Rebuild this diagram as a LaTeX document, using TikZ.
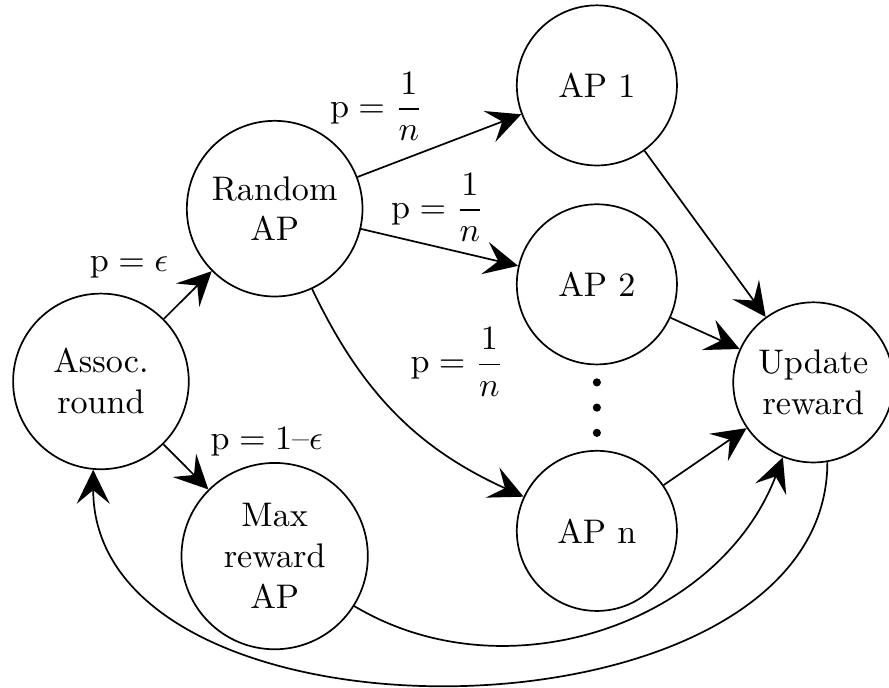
\documentclass[tikz,border=0pt]{standalone}
\usepackage{amsmath}
\usetikzlibrary{arrows.meta}
\begin{document}
\begin{tikzpicture}[
    st/.style={circle, draw, line width=0.5pt, align=center, minimum size=1.65cm, inner sep=0pt},
    lbl/.style={inner sep=0pt}
  ]
  \useasboundingbox (0,0) rectangle (9.16,-7.08);
  \draw
    (1.04,-3.93) node[st, minimum size=1.81cm] (assoc){Assoc.\\round}
    (2.83,-2.15) node[st, minimum size=1.81cm] (rand){Random\\AP}
    (2.83,-5.73) node[st, minimum size=1.92cm] (max){Max\\reward\\AP}
    (6.15,-0.88) node[st] (ap1){AP 1}
    (6.15,-2.93) node[st] (ap2){AP 2}
    (6.15,-5.47) node[st] (apn){AP n}
    (8.38,-3.94) node[st] (upd){Update\\reward};
  % dots between AP 2 and AP n
  \fill (6.15,-3.94) circle (0.042)
        (6.15,-4.20) circle (0.042)
        (6.15,-4.46) circle (0.042);
  % probabilities
  \node[lbl] (peps) at (1.33,-2.76) {$\mathrm{p} = \epsilon$};
  \node[lbl] (pmax) at (2.75,-4.55) {$\mathrm{p} = 1$--$\epsilon$};
  \node[lbl] (p1) at (3.88,-1.10) {$\mathrm{p} = \dfrac{1}{n}$};
  \node[lbl] (p2) at (4.51,-2.14) {$\mathrm{p} = \dfrac{1}{n}$};
  \node[lbl] (pn) at (4.71,-3.73) {$\mathrm{p} = \dfrac{1}{n}$};
  \begin{scope}[-{Stealth[length=3.5mm,width=3.4mm,inset=1.4mm]}, line width=0.5pt]
    \draw (assoc) to (rand);
    \draw (assoc) to (max);
    \draw (rand) to (ap1);
    \draw (rand) to (ap2);
    \draw (rand) to[bend right=20] (apn);
    \draw (ap1) to (upd);
    \draw (ap2) to (upd);
    \draw (apn) to (upd);
    \draw (max) to[bend right=50] (upd);
    \draw (upd.-80) to[out=-90, in=-90, looseness=1.01] (assoc.-95);
  \end{scope}
\end{tikzpicture}
\end{document}
